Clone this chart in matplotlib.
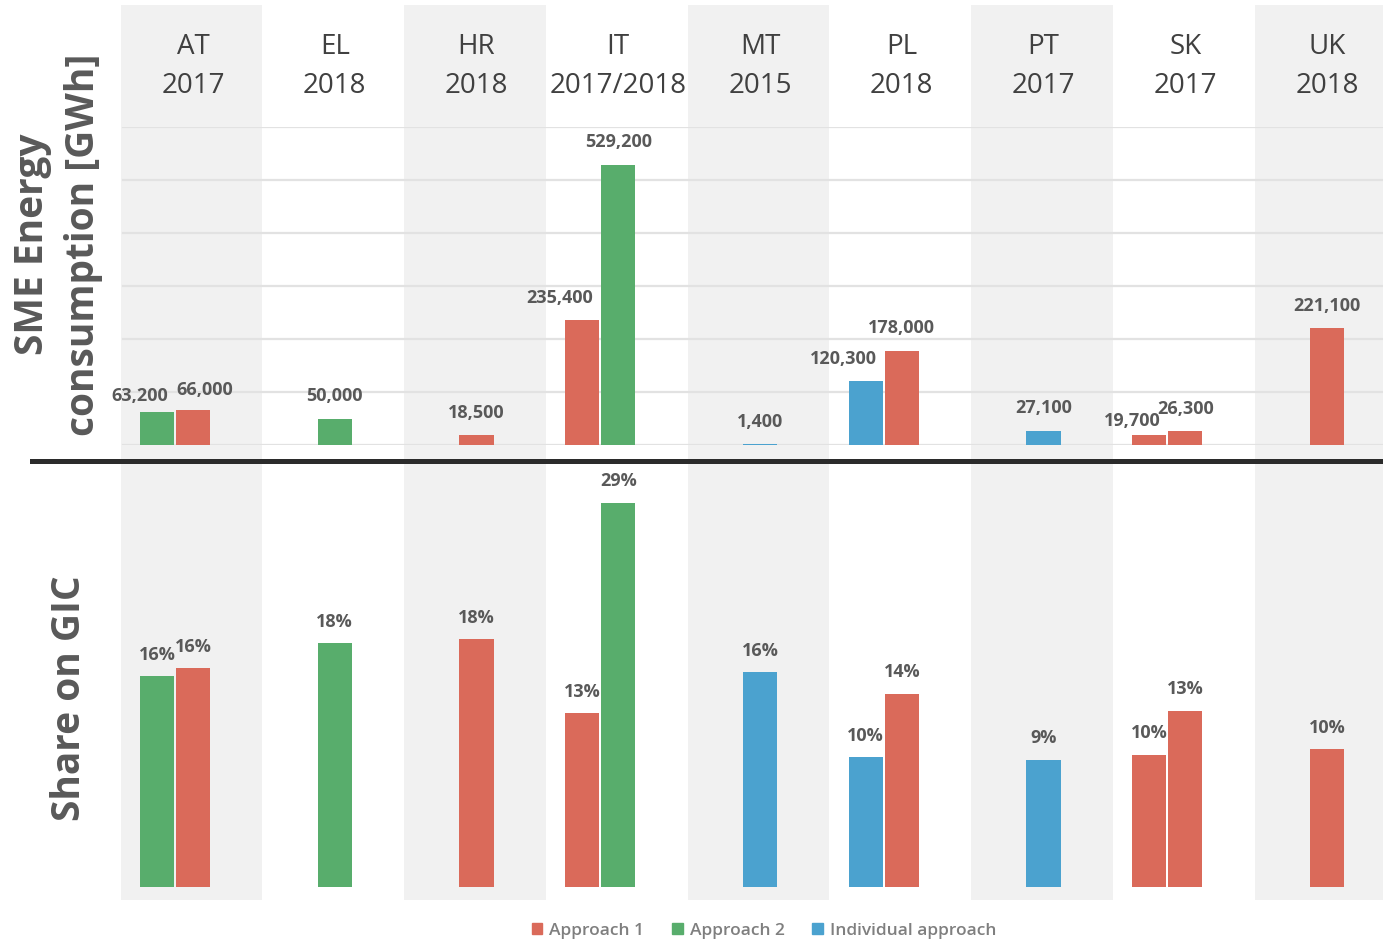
import matplotlib.pyplot as plt
import numpy as np
from matplotlib.patches import Patch
from matplotlib.lines import Line2D
from matplotlib.transforms import blended_transform_factory

# ====================
# DATOS
# ====================
countries = ["AT", "EL", "HR", "IT", "MT", "PL", "PT", "SK", "UK"]
years = ["2017", "2018", "2018", "2017/2018", "2015", "2018", "2017", "2017", "2018"]

bar_country = ["AT", "AT", "EL", "HR", "IT", "IT", "MT", "PL", "PL", "PT", "SK", "SK", "UK"]
bar_approach = ["Approach 2", "Approach 1", "Approach 2", "Approach 1", "Approach 1", "Approach 2",
                "Individual approach", "Individual approach", "Approach 1", "Individual approach",
                "Approach 1", "Approach 1", "Approach 1"]
energy_gwh = [63200, 66000, 50000, 18500, 235400, 529200, 1400, 120300, 178000, 27100, 19700, 26300, 221100]
share_gic = [15.9, 16.5, 18.4, 18.7, 13.1, 29.0, 16.2, 9.8, 14.6, 9.6, 10.0, 13.3, 10.4]
share_labels = ["16%", "16%", "18%", "18%", "13%", "29%", "16%", "10%", "14%", "9%", "10%", "13%", "10%"]

legend_order = ["Approach 1", "Approach 2", "Individual approach"]
colores = {"Approach 1": "#DA6A5A", "Approach 2": "#58AD6C", "Individual approach": "#4BA2CF"}

# ====================
# POSICIONES
# ====================
W, H = 1383, 942
fig = plt.figure(figsize=(W / 100, H / 100), dpi=100)
plt.rcParams['font.family'] = ['Open Sans', 'DejaVu Sans']

def fx(px):
    return px / W

def fy(py):
    return 1 - py / H

xlim = (-0.522, 8.395)
ancho = 0.24
desp = 0.254

# posicion de cada barra: si el pais tiene dos barras, la primera va a la izquierda
pos = []
lado = []
for i, c in enumerate(bar_country):
    idx = countries.index(c)
    n = bar_country.count(c)
    primera = bar_country[:i].count(c) == 0
    if n == 2 and primera:
        pos.append(idx - desp)
        lado.append("L")
    elif n == 2:
        pos.append(idx)
        lado.append("R")
    else:
        pos.append(idx)
        lado.append("C")
pos = np.array(pos)
cols = [colores[a] for a in bar_approach]

# fondo con bandas alternas
bg = fig.add_axes([fx(119), fy(900), 1 - fx(119), fy(5) - fy(900)])
bg.set_xlim(xlim)
bg.set_ylim(0, 1)
for i in range(0, len(countries), 2):
    bg.axvspan(i - 0.51, i + 0.49, color="#F1F1F1", lw=0)
bg.axis("off")

# ====================
# PANEL SUPERIOR
# ====================
ax1 = fig.add_axes([fx(119), fy(445), 1 - fx(119), fy(127) - fy(445)])
ax1.set_facecolor("none")
ax1.set_xlim(xlim)
ax1.set_ylim(0, 600000)
for v in np.arange(0, 600001, 100000):
    ax1.axhline(v, xmin=fx(4) / (1 - fx(119)), color="#E2E2E2", lw=1.6, zorder=0)
ax1.bar(pos, energy_gwh, width=ancho, color=cols, lw=0, zorder=2)
for i, (x, v) in enumerate(zip(pos, energy_gwh)):
    ha, dx, dy = "center", 0, 9.5
    if lado[i] == "L":
        ha, dx = "right", 8
    if bar_country[i] == "AT":
        dy = 5 if lado[i] == "L" else 8
        if lado[i] == "R":
            ha, dx = "left", -12
    if bar_country[i] == "SK" and lado[i] == "L":
        dy = 3
    ax1.annotate(f"{v:,}", (x, v), xytext=(dx, dy), textcoords="offset points",
                 ha=ha, va="bottom", fontsize=13, fontweight="bold", color="#595959")
ax1.axis("off")

# cabeceras de columna
tr = blended_transform_factory(ax1.transData, fig.transFigure)
for i, (c, y) in enumerate(zip(countries, years)):
    fig.text(i, fy(47), c, transform=tr, ha="center", va="center", fontsize=20, color="#404040")
    fig.text(i, fy(86), y, transform=tr, ha="center", va="center", fontsize=20, color="#404040")

# ====================
# PANEL INFERIOR
# ====================
ax2 = fig.add_axes([fx(119), fy(887), 1 - fx(119), fy(463) - fy(887)])
ax2.set_facecolor("none")
ax2.set_xlim(xlim)
ax2.set_ylim(0, 32)
ax2.bar(pos, share_gic, width=ancho, color=cols, lw=0, zorder=2)
for x, v, t in zip(pos, share_gic, share_labels):
    ax2.annotate(t, (x, v), xytext=(0, 9), textcoords="offset points",
                 ha="center", va="bottom", fontsize=13, fontweight="bold", color="#595959")
ax2.axis("off")

# linea separadora
fig.add_artist(Line2D([fx(32), 1], [fy(461), fy(461)], lw=3.6, color="#2B2B2B"))

# titulos de eje
fig.text(fx(33), fy(244), "SME Energy", rotation=90, ha="center", va="center",
         fontsize=28, fontweight="bold", color="#595959")
fig.text(fx(84), fy(245), "consumption [GWh]", rotation=90, ha="center", va="center",
         fontsize=28, fontweight="bold", color="#595959")
fig.text(fx(70), fy(698), "Share on GIC", rotation=90, ha="center", va="center",
         fontsize=28, fontweight="bold", color="#595959")

# leyenda
handles = [Patch(color=colores[a], label=a) for a in legend_order]
fig.legend(handles=handles, loc="center", bbox_to_anchor=(fx(764), fy(931)), ncol=3,
           frameon=False, handlelength=0.6, handleheight=0.6, handletextpad=0.4,
           columnspacing=1.6, prop={"size": 12.5, "weight": "semibold"}, labelcolor="#7F7F7F")

plt.savefig("out.png", dpi=100)
